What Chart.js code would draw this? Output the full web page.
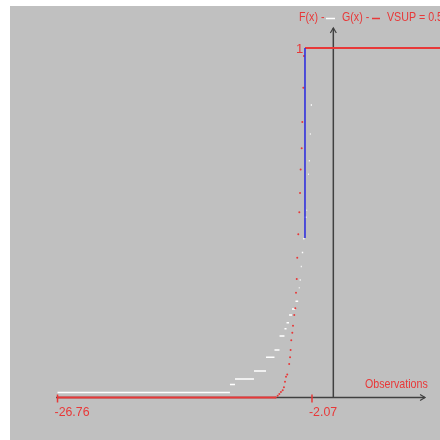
<!DOCTYPE html>
<html>
<head>
<meta charset="utf-8">
<script src="https://cdn.jsdelivr.net/npm/chart.js"></script>
<style>
  body { margin: 0; background: #fff; }
</style>
</head>
<body>
<canvas id="ksChart" width="440" height="440"></canvas>
<script>
// observations (sorted) and empirical cdf level after each one
const obsX = [-26.76, -10.03, -9.54, -7.70, -6.53, -5.71, -5.22, -4.74, -4.54, -4.30, -4.01, -3.67,
  -3.41, -3.35, -3.27, -3.16, -3.06, -2.92, -2.80, -2.60, -2.54, -2.46, -2.38, -2.28, -2.19, -2.07];
const fLevels = [0.014, 0.037, 0.053, 0.076, 0.115, 0.136, 0.176, 0.197, 0.214, 0.236, 0.253, 0.275,
  0.297, 0.314, 0.336, 0.375, 0.415, 0.454, 0.516, 0.536, 0.616, 0.639, 0.677, 0.754, 0.837];

// theoretical cdf G(x), sampled points on the rising part
const gX = [-5.59, -5.40, -5.24, -5.08, -4.91, -4.79, -4.69, -4.59, -4.47, -4.28, -4.20, -4.14, -4.08,
  -3.98, -3.91, -3.79, -3.69, -3.62, -3.55, -3.50, -3.40, -3.30, -3.23, -3.17, -3.07, -3.01, -2.91, -2.85];
const gY = [0.0, 0.005, 0.010, 0.016, 0.021, 0.029, 0.045, 0.059, 0.066, 0.096, 0.115, 0.136, 0.164,
  0.185, 0.205, 0.236, 0.255, 0.300, 0.339, 0.400, 0.467, 0.530, 0.585, 0.652, 0.713, 0.788, 0.886, 0.977];
// flat parts of G: 0 on the left, 1 on the right
const gLowX = [-26.76, -5.60];
const gHighX = [-2.75, 10.4];

// sup distance
const vsupX = -2.75;
const vsupTop = 1;
const vsupBottom = 0.456;
const vsupValue = 0.544;

const tickValues = [-26.76, -2.07];
const tickLabels = ['-26.76', '-2.07'];

const RED = '#e83838';
const FONT = '13px "Liberation Sans", Arial, sans-serif';

function buildSteps(){
    const pts = [];
    for(let i = 0; i < fLevels.length; i++){
        pts.push({x: obsX[i], y: fLevels[i]});
        pts.push({x: obsX[i+1], y: fLevels[i]});
        pts.push({x: obsX[i+1], y: null});
    }
    return pts;
}

const gFlat = [
    {x: gLowX[0], y: 0}, {x: gLowX[1], y: 0}, {x: gLowX[1], y: null},
    {x: gHighX[0], y: 1}, {x: gHighX[1], y: 1}
];

// narrow text: squeeze horizontally
function narrowText(ctx, text, x, y, k){
    const w = ctx.measureText(text).width;
    ctx.fillText(text, x, y, w * k);
}

const ksPlugin = {
    id: 'ksPlot',
    beforeDraw(chart){
        const ctx = chart.ctx;
        const a = chart.chartArea;
        ctx.save();
        ctx.fillStyle = '#ffffff';
        ctx.fillRect(0, 0, chart.width, chart.height);
        ctx.fillStyle = '#c0c0c0';
        ctx.fillRect(a.left, a.top, a.right - a.left, a.bottom - a.top);
        ctx.restore();
    },
    beforeDatasetsDraw(chart){
        const ctx = chart.ctx;
        const xs = chart.scales.x, ys = chart.scales.y;
        const y0 = ys.getPixelForValue(0);
        const x0 = xs.getPixelForValue(0);
        const xEnd = xs.getPixelForValue(8.9);
        const xStart = xs.getPixelForValue(-26.9);
        const yEnd = ys.getPixelForValue(1.057);
        ctx.save();
        ctx.strokeStyle = '#404040';
        ctx.lineWidth = 1.5;
        ctx.beginPath();
        ctx.moveTo(xStart, y0); ctx.lineTo(xEnd, y0);
        ctx.moveTo(x0, y0); ctx.lineTo(x0, yEnd);
        ctx.stroke();
        // arrow heads
        ctx.lineWidth = 1.2;
        ctx.beginPath();
        ctx.moveTo(xEnd - 5, y0 - 3); ctx.lineTo(xEnd, y0); ctx.lineTo(xEnd - 5, y0 + 3);
        ctx.moveTo(x0 - 3, yEnd + 5); ctx.lineTo(x0, yEnd); ctx.lineTo(x0 + 3, yEnd + 5);
        ctx.stroke();
        ctx.restore();
    },
    afterDatasetsDraw(chart){
        const ctx = chart.ctx;
        const xs = chart.scales.x, ys = chart.scales.y;
        const y0 = ys.getPixelForValue(0);
        ctx.save();
        ctx.font = FONT;
        ctx.fillStyle = RED;
        ctx.strokeStyle = RED;
        ctx.textBaseline = 'alphabetic';
        ctx.textAlign = 'left';
        // ticks + labels
        ctx.lineWidth = 1.5;
        tickValues.forEach((v, i) => {
            const px = xs.getPixelForValue(v);
            ctx.beginPath();
            ctx.moveTo(px, y0 - 3); ctx.lineTo(px, y0 + 5);
            ctx.stroke();
            narrowText(ctx, tickLabels[i], px - 3, 416, 0.95);
        });
        // "1" label
        narrowText(ctx, '1', xs.getPixelForValue(gHighX[0]) - 9, ys.getPixelForValue(1) + 5, 1);
        // axis name
        narrowText(ctx, 'Observations', 365, 388, 0.82);
        // legend
        narrowText(ctx, 'F(x) -', 299, 21, 0.82);
        narrowText(ctx, 'G(x) -', 342, 21, 0.82);
        narrowText(ctx, 'VSUP = ' + vsupValue.toFixed(3), 387, 21, 0.82);
        ctx.lineWidth = 1.5;
        ctx.strokeStyle = '#ffffff';
        ctx.beginPath(); ctx.moveTo(326, 18.5); ctx.lineTo(335, 18.5); ctx.stroke();
        ctx.strokeStyle = RED;
        ctx.beginPath(); ctx.moveTo(372, 18.5); ctx.lineTo(380, 18.5); ctx.stroke();
        ctx.restore();
    }
};

new Chart(document.getElementById('ksChart'), {
    type: 'scatter',
    data: {
        datasets: [
            {
                label: 'VSUP',
                data: [{x: vsupX, y: vsupTop}, {x: vsupX, y: vsupBottom}],
                showLine: true,
                borderColor: '#2828e0',
                borderWidth: 1.5,
                pointRadius: 0
            },
            {
                label: 'G flat',
                data: gFlat,
                showLine: true,
                spanGaps: false,
                borderColor: RED,
                borderWidth: 2,
                pointRadius: 0
            },
            {
                label: 'G(x)',
                data: gX.map((x, i) => ({x: x, y: gY[i]})),
                showLine: false,
                pointRadius: 1,
                pointBorderWidth: 0,
                backgroundColor: RED
            },
            {
                label: 'F(x)',
                data: buildSteps(),
                showLine: true,
                spanGaps: false,
                borderColor: '#ffffff',
                borderWidth: 1.5,
                pointRadius: 0
            }
        ]
    },
    options: {
        responsive: false,
        animation: false,
        layout: { autoPadding: false, padding: { left: 10, top: 6, right: 0, bottom: 0 } },
        plugins: { legend: { display: false }, tooltip: { enabled: false } },
        scales: {
            x: { type: 'linear', min: -31.37, max: 10.35, display: false },
            y: { type: 'linear', min: -0.1216, max: 1.12, display: false }
        }
    },
    plugins: [ksPlugin]
});
</script>
</body>
</html>
